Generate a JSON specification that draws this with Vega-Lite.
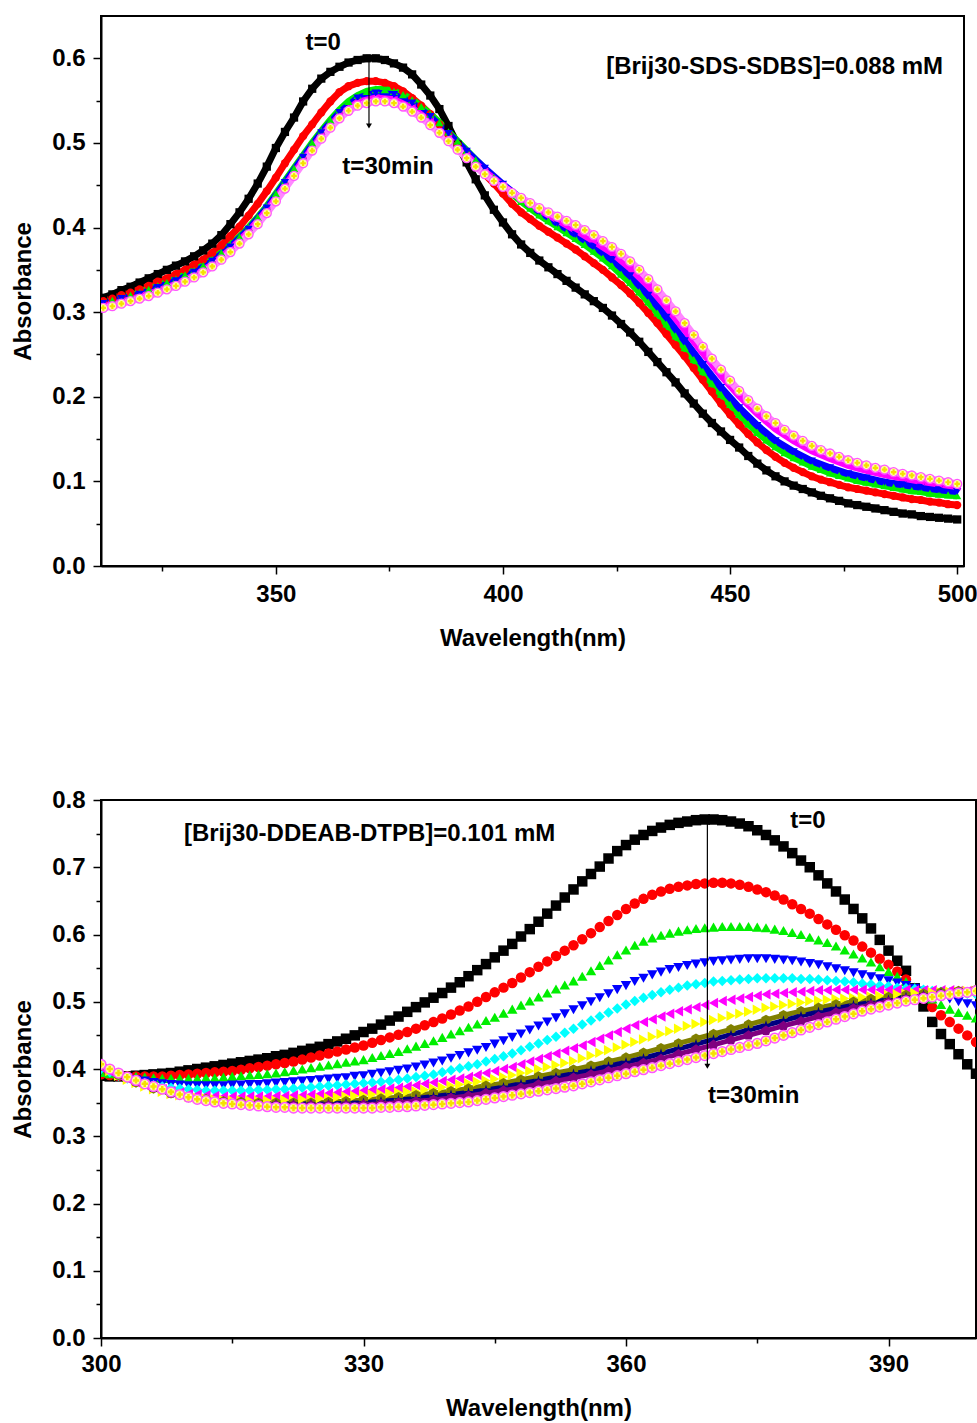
{
"$schema": "https://vega.github.io/schema/vega-lite/v6.json",
"background": "white",
"padding": {"left": 10, "top": 15, "right": 2, "bottom": 2},
"spacing": 136,
"config": {
  "view": {"stroke": "black", "strokeWidth": 2},
  "axis": {"labelFont": "Liberation Sans", "labelFontWeight": "bold", "labelFontSize": 24, "labelColor": "black", "titleFont": "Liberation Sans", "titleFontWeight": "bold", "titleFontSize": 24, "titleColor": "black", "domainColor": "black", "domainWidth": 2, "tickColor": "black", "tickWidth": 1.5, "grid": false, "labelFlush": false, "labelPadding": 6, "titlePadding": 12},
  "text": {"font": "Liberation Sans", "fontWeight": "bold", "fontSize": 24, "color": "black"}
},
"datasets": {
"topNotes": [{"nm": 360.4, "A": 0.618, "label": "t=0"}, {"nm": 374.7, "A": 0.472, "label": "t=30min"}, {"nm": 459.8, "A": 0.59, "label": "[Brij30-SDS-SDBS]=0.088 mM"}],
"bottomNotes": [{"nm": 380.8, "A": 0.769, "label": "t=0"}, {"nm": 374.6, "A": 0.36, "label": "t=30min"}, {"nm": 330.7, "A": 0.749, "label": "[Brij30-DDEAB-DTPB]=0.101 mM"}],
"topArrow": [{"nm": 370.5, "from": 0.602, "to": 0.52}],
"bottomArrow": [{"nm": 369.3, "from": 0.772, "to": 0.404}],
"top": [
{"t":0,"nm":312,"A":0.317},{"t":0,"nm":314,"A":0.321},{"t":0,"nm":316,"A":0.326},{"t":0,"nm":318,"A":0.330},{"t":0,"nm":320,"A":0.335},{"t":0,"nm":322,"A":0.340},{"t":0,"nm":324,"A":0.345},{"t":0,"nm":326,"A":0.350},{"t":0,"nm":328,"A":0.355},{"t":0,"nm":330,"A":0.360},{"t":0,"nm":332,"A":0.366},{"t":0,"nm":334,"A":0.373},{"t":0,"nm":336,"A":0.381},{"t":0,"nm":338,"A":0.391},{"t":0,"nm":340,"A":0.404},{"t":0,"nm":342,"A":0.418},{"t":0,"nm":344,"A":0.434},{"t":0,"nm":346,"A":0.452},{"t":0,"nm":348,"A":0.472},{"t":0,"nm":350,"A":0.494},{"t":0,"nm":352,"A":0.513},{"t":0,"nm":354,"A":0.530},{"t":0,"nm":356,"A":0.549},{"t":0,"nm":358,"A":0.564},{"t":0,"nm":360,"A":0.576},{"t":0,"nm":362,"A":0.584},{"t":0,"nm":364,"A":0.590},{"t":0,"nm":366,"A":0.595},{"t":0,"nm":368,"A":0.598},{"t":0,"nm":370,"A":0.600},{"t":0,"nm":372,"A":0.600},{"t":0,"nm":374,"A":0.598},{"t":0,"nm":376,"A":0.594},{"t":0,"nm":378,"A":0.589},{"t":0,"nm":380,"A":0.581},{"t":0,"nm":382,"A":0.569},{"t":0,"nm":384,"A":0.556},{"t":0,"nm":386,"A":0.540},{"t":0,"nm":388,"A":0.520},{"t":0,"nm":390,"A":0.498},{"t":0,"nm":392,"A":0.477},{"t":0,"nm":394,"A":0.457},{"t":0,"nm":396,"A":0.438},{"t":0,"nm":398,"A":0.421},{"t":0,"nm":400,"A":0.406},{"t":0,"nm":402,"A":0.392},{"t":0,"nm":404,"A":0.380},{"t":0,"nm":406,"A":0.370},{"t":0,"nm":408,"A":0.361},{"t":0,"nm":410,"A":0.353},{"t":0,"nm":412,"A":0.345},{"t":0,"nm":414,"A":0.337},{"t":0,"nm":416,"A":0.329},{"t":0,"nm":418,"A":0.321},{"t":0,"nm":420,"A":0.313},{"t":0,"nm":422,"A":0.305},{"t":0,"nm":424,"A":0.296},{"t":0,"nm":426,"A":0.286},{"t":0,"nm":428,"A":0.276},{"t":0,"nm":430,"A":0.265},{"t":0,"nm":432,"A":0.253},{"t":0,"nm":434,"A":0.241},{"t":0,"nm":436,"A":0.229},{"t":0,"nm":438,"A":0.217},{"t":0,"nm":440,"A":0.204},{"t":0,"nm":442,"A":0.192},{"t":0,"nm":444,"A":0.180},{"t":0,"nm":446,"A":0.169},{"t":0,"nm":448,"A":0.159},{"t":0,"nm":450,"A":0.149},{"t":0,"nm":452,"A":0.140},{"t":0,"nm":454,"A":0.130},{"t":0,"nm":456,"A":0.121},{"t":0,"nm":458,"A":0.113},{"t":0,"nm":460,"A":0.106},{"t":0,"nm":462,"A":0.100},{"t":0,"nm":464,"A":0.095},{"t":0,"nm":466,"A":0.091},{"t":0,"nm":468,"A":0.087},{"t":0,"nm":470,"A":0.083},{"t":0,"nm":472,"A":0.080},{"t":0,"nm":474,"A":0.077},{"t":0,"nm":476,"A":0.074},{"t":0,"nm":478,"A":0.072},{"t":0,"nm":480,"A":0.070},{"t":0,"nm":482,"A":0.068},{"t":0,"nm":484,"A":0.066},{"t":0,"nm":486,"A":0.064},{"t":0,"nm":488,"A":0.062},{"t":0,"nm":490,"A":0.061},{"t":0,"nm":492,"A":0.059},{"t":0,"nm":494,"A":0.058},{"t":0,"nm":496,"A":0.057},{"t":0,"nm":498,"A":0.056},{"t":0,"nm":500,"A":0.055},
{"t":1,"nm":312,"A":0.313},{"t":1,"nm":314,"A":0.316},{"t":1,"nm":316,"A":0.320},{"t":1,"nm":318,"A":0.323},{"t":1,"nm":320,"A":0.327},{"t":1,"nm":322,"A":0.331},{"t":1,"nm":324,"A":0.336},{"t":1,"nm":326,"A":0.340},{"t":1,"nm":328,"A":0.345},{"t":1,"nm":330,"A":0.350},{"t":1,"nm":332,"A":0.356},{"t":1,"nm":334,"A":0.362},{"t":1,"nm":336,"A":0.370},{"t":1,"nm":338,"A":0.379},{"t":1,"nm":340,"A":0.390},{"t":1,"nm":342,"A":0.401},{"t":1,"nm":344,"A":0.414},{"t":1,"nm":346,"A":0.428},{"t":1,"nm":348,"A":0.443},{"t":1,"nm":350,"A":0.459},{"t":1,"nm":352,"A":0.476},{"t":1,"nm":354,"A":0.492},{"t":1,"nm":356,"A":0.508},{"t":1,"nm":358,"A":0.522},{"t":1,"nm":360,"A":0.536},{"t":1,"nm":362,"A":0.549},{"t":1,"nm":364,"A":0.560},{"t":1,"nm":366,"A":0.567},{"t":1,"nm":368,"A":0.571},{"t":1,"nm":370,"A":0.573},{"t":1,"nm":372,"A":0.573},{"t":1,"nm":374,"A":0.571},{"t":1,"nm":376,"A":0.567},{"t":1,"nm":378,"A":0.561},{"t":1,"nm":380,"A":0.553},{"t":1,"nm":382,"A":0.544},{"t":1,"nm":384,"A":0.534},{"t":1,"nm":386,"A":0.522},{"t":1,"nm":388,"A":0.510},{"t":1,"nm":390,"A":0.498},{"t":1,"nm":392,"A":0.486},{"t":1,"nm":394,"A":0.474},{"t":1,"nm":396,"A":0.463},{"t":1,"nm":398,"A":0.452},{"t":1,"nm":400,"A":0.440},{"t":1,"nm":402,"A":0.428},{"t":1,"nm":404,"A":0.418},{"t":1,"nm":406,"A":0.410},{"t":1,"nm":408,"A":0.402},{"t":1,"nm":410,"A":0.395},{"t":1,"nm":412,"A":0.388},{"t":1,"nm":414,"A":0.381},{"t":1,"nm":416,"A":0.374},{"t":1,"nm":418,"A":0.366},{"t":1,"nm":420,"A":0.358},{"t":1,"nm":422,"A":0.350},{"t":1,"nm":424,"A":0.341},{"t":1,"nm":426,"A":0.332},{"t":1,"nm":428,"A":0.322},{"t":1,"nm":430,"A":0.311},{"t":1,"nm":432,"A":0.299},{"t":1,"nm":434,"A":0.287},{"t":1,"nm":436,"A":0.274},{"t":1,"nm":438,"A":0.261},{"t":1,"nm":440,"A":0.248},{"t":1,"nm":442,"A":0.234},{"t":1,"nm":444,"A":0.220},{"t":1,"nm":446,"A":0.206},{"t":1,"nm":448,"A":0.192},{"t":1,"nm":450,"A":0.179},{"t":1,"nm":452,"A":0.167},{"t":1,"nm":454,"A":0.156},{"t":1,"nm":456,"A":0.146},{"t":1,"nm":458,"A":0.137},{"t":1,"nm":460,"A":0.129},{"t":1,"nm":462,"A":0.122},{"t":1,"nm":464,"A":0.116},{"t":1,"nm":466,"A":0.111},{"t":1,"nm":468,"A":0.106},{"t":1,"nm":470,"A":0.102},{"t":1,"nm":472,"A":0.099},{"t":1,"nm":474,"A":0.096},{"t":1,"nm":476,"A":0.093},{"t":1,"nm":478,"A":0.091},{"t":1,"nm":480,"A":0.089},{"t":1,"nm":482,"A":0.087},{"t":1,"nm":484,"A":0.085},{"t":1,"nm":486,"A":0.083},{"t":1,"nm":488,"A":0.081},{"t":1,"nm":490,"A":0.079},{"t":1,"nm":492,"A":0.078},{"t":1,"nm":494,"A":0.076},{"t":1,"nm":496,"A":0.075},{"t":1,"nm":498,"A":0.073},{"t":1,"nm":500,"A":0.072},
{"t":2,"nm":312,"A":0.311},{"t":2,"nm":314,"A":0.314},{"t":2,"nm":316,"A":0.317},{"t":2,"nm":318,"A":0.320},{"t":2,"nm":320,"A":0.323},{"t":2,"nm":322,"A":0.327},{"t":2,"nm":324,"A":0.331},{"t":2,"nm":326,"A":0.335},{"t":2,"nm":328,"A":0.339},{"t":2,"nm":330,"A":0.344},{"t":2,"nm":332,"A":0.349},{"t":2,"nm":334,"A":0.355},{"t":2,"nm":336,"A":0.362},{"t":2,"nm":338,"A":0.370},{"t":2,"nm":340,"A":0.379},{"t":2,"nm":342,"A":0.389},{"t":2,"nm":344,"A":0.400},{"t":2,"nm":346,"A":0.412},{"t":2,"nm":348,"A":0.425},{"t":2,"nm":350,"A":0.440},{"t":2,"nm":352,"A":0.455},{"t":2,"nm":354,"A":0.470},{"t":2,"nm":356,"A":0.485},{"t":2,"nm":358,"A":0.500},{"t":2,"nm":360,"A":0.514},{"t":2,"nm":362,"A":0.527},{"t":2,"nm":364,"A":0.539},{"t":2,"nm":366,"A":0.549},{"t":2,"nm":368,"A":0.556},{"t":2,"nm":370,"A":0.561},{"t":2,"nm":372,"A":0.563},{"t":2,"nm":374,"A":0.563},{"t":2,"nm":376,"A":0.561},{"t":2,"nm":378,"A":0.557},{"t":2,"nm":380,"A":0.551},{"t":2,"nm":382,"A":0.543},{"t":2,"nm":384,"A":0.534},{"t":2,"nm":386,"A":0.524},{"t":2,"nm":388,"A":0.513},{"t":2,"nm":390,"A":0.502},{"t":2,"nm":392,"A":0.491},{"t":2,"nm":394,"A":0.480},{"t":2,"nm":396,"A":0.469},{"t":2,"nm":398,"A":0.459},{"t":2,"nm":400,"A":0.449},{"t":2,"nm":402,"A":0.440},{"t":2,"nm":404,"A":0.431},{"t":2,"nm":406,"A":0.423},{"t":2,"nm":408,"A":0.415},{"t":2,"nm":410,"A":0.408},{"t":2,"nm":412,"A":0.401},{"t":2,"nm":414,"A":0.394},{"t":2,"nm":416,"A":0.387},{"t":2,"nm":418,"A":0.380},{"t":2,"nm":420,"A":0.372},{"t":2,"nm":422,"A":0.364},{"t":2,"nm":424,"A":0.355},{"t":2,"nm":426,"A":0.345},{"t":2,"nm":428,"A":0.335},{"t":2,"nm":430,"A":0.324},{"t":2,"nm":432,"A":0.312},{"t":2,"nm":434,"A":0.299},{"t":2,"nm":436,"A":0.286},{"t":2,"nm":438,"A":0.272},{"t":2,"nm":440,"A":0.258},{"t":2,"nm":442,"A":0.244},{"t":2,"nm":444,"A":0.230},{"t":2,"nm":446,"A":0.216},{"t":2,"nm":448,"A":0.203},{"t":2,"nm":450,"A":0.191},{"t":2,"nm":452,"A":0.179},{"t":2,"nm":454,"A":0.168},{"t":2,"nm":456,"A":0.158},{"t":2,"nm":458,"A":0.149},{"t":2,"nm":460,"A":0.141},{"t":2,"nm":462,"A":0.134},{"t":2,"nm":464,"A":0.128},{"t":2,"nm":466,"A":0.123},{"t":2,"nm":468,"A":0.118},{"t":2,"nm":470,"A":0.114},{"t":2,"nm":472,"A":0.110},{"t":2,"nm":474,"A":0.107},{"t":2,"nm":476,"A":0.104},{"t":2,"nm":478,"A":0.101},{"t":2,"nm":480,"A":0.099},{"t":2,"nm":482,"A":0.097},{"t":2,"nm":484,"A":0.095},{"t":2,"nm":486,"A":0.093},{"t":2,"nm":488,"A":0.091},{"t":2,"nm":490,"A":0.089},{"t":2,"nm":492,"A":0.088},{"t":2,"nm":494,"A":0.086},{"t":2,"nm":496,"A":0.085},{"t":2,"nm":498,"A":0.084},{"t":2,"nm":500,"A":0.083},
{"t":3,"nm":312,"A":0.310},{"t":3,"nm":316,"A":0.316},{"t":3,"nm":320,"A":0.321},{"t":3,"nm":324,"A":0.329},{"t":3,"nm":328,"A":0.337},{"t":3,"nm":332,"A":0.347},{"t":3,"nm":336,"A":0.360},{"t":3,"nm":340,"A":0.377},{"t":3,"nm":344,"A":0.398},{"t":3,"nm":348,"A":0.423},{"t":3,"nm":352,"A":0.453},{"t":3,"nm":356,"A":0.483},{"t":3,"nm":360,"A":0.512},{"t":3,"nm":364,"A":0.536},{"t":3,"nm":368,"A":0.553},{"t":3,"nm":372,"A":0.559},{"t":3,"nm":376,"A":0.557},{"t":3,"nm":380,"A":0.547},{"t":3,"nm":384,"A":0.531},{"t":3,"nm":388,"A":0.511},{"t":3,"nm":392,"A":0.490},{"t":3,"nm":396,"A":0.470},{"t":3,"nm":400,"A":0.451},{"t":3,"nm":404,"A":0.434},{"t":3,"nm":408,"A":0.419},{"t":3,"nm":412,"A":0.405},{"t":3,"nm":416,"A":0.392},{"t":3,"nm":420,"A":0.378},{"t":3,"nm":424,"A":0.362},{"t":3,"nm":428,"A":0.343},{"t":3,"nm":432,"A":0.320},{"t":3,"nm":436,"A":0.294},{"t":3,"nm":440,"A":0.266},{"t":3,"nm":444,"A":0.238},{"t":3,"nm":448,"A":0.211},{"t":3,"nm":452,"A":0.187},{"t":3,"nm":456,"A":0.166},{"t":3,"nm":460,"A":0.148},{"t":3,"nm":464,"A":0.135},{"t":3,"nm":468,"A":0.124},{"t":3,"nm":472,"A":0.116},{"t":3,"nm":476,"A":0.109},{"t":3,"nm":480,"A":0.104},{"t":3,"nm":484,"A":0.099},{"t":3,"nm":488,"A":0.096},{"t":3,"nm":492,"A":0.093},{"t":3,"nm":496,"A":0.090},{"t":3,"nm":500,"A":0.088},
{"t":5,"nm":312,"A":0.307},{"t":5,"nm":316,"A":0.312},{"t":5,"nm":320,"A":0.318},{"t":5,"nm":324,"A":0.325},{"t":5,"nm":328,"A":0.333},{"t":5,"nm":332,"A":0.343},{"t":5,"nm":336,"A":0.356},{"t":5,"nm":340,"A":0.374},{"t":5,"nm":344,"A":0.395},{"t":5,"nm":348,"A":0.420},{"t":5,"nm":352,"A":0.449},{"t":5,"nm":356,"A":0.479},{"t":5,"nm":360,"A":0.508},{"t":5,"nm":364,"A":0.532},{"t":5,"nm":368,"A":0.548},{"t":5,"nm":372,"A":0.553},{"t":5,"nm":376,"A":0.551},{"t":5,"nm":380,"A":0.541},{"t":5,"nm":384,"A":0.525},{"t":5,"nm":388,"A":0.505},{"t":5,"nm":392,"A":0.485},{"t":5,"nm":396,"A":0.466},{"t":5,"nm":400,"A":0.449},{"t":5,"nm":404,"A":0.434},{"t":5,"nm":408,"A":0.421},{"t":5,"nm":412,"A":0.409},{"t":5,"nm":416,"A":0.397},{"t":5,"nm":420,"A":0.384},{"t":5,"nm":424,"A":0.370},{"t":5,"nm":428,"A":0.352},{"t":5,"nm":432,"A":0.331},{"t":5,"nm":436,"A":0.306},{"t":5,"nm":440,"A":0.279},{"t":5,"nm":444,"A":0.252},{"t":5,"nm":448,"A":0.225},{"t":5,"nm":452,"A":0.201},{"t":5,"nm":456,"A":0.180},{"t":5,"nm":460,"A":0.162},{"t":5,"nm":464,"A":0.148},{"t":5,"nm":468,"A":0.136},{"t":5,"nm":472,"A":0.127},{"t":5,"nm":476,"A":0.119},{"t":5,"nm":480,"A":0.113},{"t":5,"nm":484,"A":0.108},{"t":5,"nm":488,"A":0.104},{"t":5,"nm":492,"A":0.100},{"t":5,"nm":496,"A":0.097},{"t":5,"nm":500,"A":0.094},
{"t":10,"nm":312,"A":0.305},{"t":10,"nm":314,"A":0.307},{"t":10,"nm":316,"A":0.310},{"t":10,"nm":318,"A":0.313},{"t":10,"nm":320,"A":0.316},{"t":10,"nm":322,"A":0.319},{"t":10,"nm":324,"A":0.323},{"t":10,"nm":326,"A":0.327},{"t":10,"nm":328,"A":0.331},{"t":10,"nm":330,"A":0.336},{"t":10,"nm":332,"A":0.341},{"t":10,"nm":334,"A":0.347},{"t":10,"nm":336,"A":0.354},{"t":10,"nm":338,"A":0.362},{"t":10,"nm":340,"A":0.371},{"t":10,"nm":342,"A":0.381},{"t":10,"nm":344,"A":0.392},{"t":10,"nm":346,"A":0.404},{"t":10,"nm":348,"A":0.417},{"t":10,"nm":350,"A":0.431},{"t":10,"nm":352,"A":0.446},{"t":10,"nm":354,"A":0.461},{"t":10,"nm":356,"A":0.476},{"t":10,"nm":358,"A":0.491},{"t":10,"nm":360,"A":0.505},{"t":10,"nm":362,"A":0.518},{"t":10,"nm":364,"A":0.529},{"t":10,"nm":366,"A":0.538},{"t":10,"nm":368,"A":0.544},{"t":10,"nm":370,"A":0.547},{"t":10,"nm":372,"A":0.549},{"t":10,"nm":374,"A":0.549},{"t":10,"nm":376,"A":0.547},{"t":10,"nm":378,"A":0.543},{"t":10,"nm":380,"A":0.537},{"t":10,"nm":382,"A":0.530},{"t":10,"nm":384,"A":0.521},{"t":10,"nm":386,"A":0.512},{"t":10,"nm":388,"A":0.502},{"t":10,"nm":390,"A":0.492},{"t":10,"nm":392,"A":0.482},{"t":10,"nm":394,"A":0.472},{"t":10,"nm":396,"A":0.463},{"t":10,"nm":398,"A":0.455},{"t":10,"nm":400,"A":0.448},{"t":10,"nm":402,"A":0.441},{"t":10,"nm":404,"A":0.435},{"t":10,"nm":406,"A":0.429},{"t":10,"nm":408,"A":0.423},{"t":10,"nm":410,"A":0.418},{"t":10,"nm":412,"A":0.413},{"t":10,"nm":414,"A":0.408},{"t":10,"nm":416,"A":0.403},{"t":10,"nm":418,"A":0.397},{"t":10,"nm":420,"A":0.391},{"t":10,"nm":422,"A":0.384},{"t":10,"nm":424,"A":0.377},{"t":10,"nm":426,"A":0.369},{"t":10,"nm":428,"A":0.360},{"t":10,"nm":430,"A":0.350},{"t":10,"nm":432,"A":0.339},{"t":10,"nm":434,"A":0.327},{"t":10,"nm":436,"A":0.314},{"t":10,"nm":438,"A":0.301},{"t":10,"nm":440,"A":0.287},{"t":10,"nm":442,"A":0.273},{"t":10,"nm":444,"A":0.259},{"t":10,"nm":446,"A":0.245},{"t":10,"nm":448,"A":0.232},{"t":10,"nm":450,"A":0.219},{"t":10,"nm":452,"A":0.207},{"t":10,"nm":454,"A":0.196},{"t":10,"nm":456,"A":0.186},{"t":10,"nm":458,"A":0.177},{"t":10,"nm":460,"A":0.169},{"t":10,"nm":462,"A":0.161},{"t":10,"nm":464,"A":0.154},{"t":10,"nm":466,"A":0.148},{"t":10,"nm":468,"A":0.142},{"t":10,"nm":470,"A":0.137},{"t":10,"nm":472,"A":0.133},{"t":10,"nm":474,"A":0.129},{"t":10,"nm":476,"A":0.125},{"t":10,"nm":478,"A":0.122},{"t":10,"nm":480,"A":0.119},{"t":10,"nm":482,"A":0.116},{"t":10,"nm":484,"A":0.114},{"t":10,"nm":486,"A":0.111},{"t":10,"nm":488,"A":0.109},{"t":10,"nm":490,"A":0.107},{"t":10,"nm":492,"A":0.105},{"t":10,"nm":494,"A":0.103},{"t":10,"nm":496,"A":0.101},{"t":10,"nm":498,"A":0.099},{"t":10,"nm":500,"A":0.097}
],
"bottom": [
{"t":0,"nm":300,"A":0.390},{"t":0,"nm":301,"A":0.389},{"t":0,"nm":302,"A":0.389},{"t":0,"nm":303,"A":0.389},{"t":0,"nm":304,"A":0.390},{"t":0,"nm":305,"A":0.391},{"t":0,"nm":306,"A":0.392},{"t":0,"nm":307,"A":0.393},{"t":0,"nm":308,"A":0.394},{"t":0,"nm":309,"A":0.396},{"t":0,"nm":310,"A":0.398},{"t":0,"nm":311,"A":0.400},{"t":0,"nm":312,"A":0.402},{"t":0,"nm":313,"A":0.404},{"t":0,"nm":314,"A":0.406},{"t":0,"nm":315,"A":0.408},{"t":0,"nm":316,"A":0.410},{"t":0,"nm":317,"A":0.412},{"t":0,"nm":318,"A":0.414},{"t":0,"nm":319,"A":0.416},{"t":0,"nm":320,"A":0.419},{"t":0,"nm":321,"A":0.421},{"t":0,"nm":322,"A":0.424},{"t":0,"nm":323,"A":0.427},{"t":0,"nm":324,"A":0.430},{"t":0,"nm":325,"A":0.433},{"t":0,"nm":326,"A":0.437},{"t":0,"nm":327,"A":0.441},{"t":0,"nm":328,"A":0.445},{"t":0,"nm":329,"A":0.450},{"t":0,"nm":330,"A":0.455},{"t":0,"nm":331,"A":0.460},{"t":0,"nm":332,"A":0.466},{"t":0,"nm":333,"A":0.472},{"t":0,"nm":334,"A":0.478},{"t":0,"nm":335,"A":0.485},{"t":0,"nm":336,"A":0.492},{"t":0,"nm":337,"A":0.499},{"t":0,"nm":338,"A":0.506},{"t":0,"nm":339,"A":0.513},{"t":0,"nm":340,"A":0.521},{"t":0,"nm":341,"A":0.529},{"t":0,"nm":342,"A":0.538},{"t":0,"nm":343,"A":0.547},{"t":0,"nm":344,"A":0.556},{"t":0,"nm":345,"A":0.566},{"t":0,"nm":346,"A":0.576},{"t":0,"nm":347,"A":0.586},{"t":0,"nm":348,"A":0.597},{"t":0,"nm":349,"A":0.608},{"t":0,"nm":350,"A":0.619},{"t":0,"nm":351,"A":0.631},{"t":0,"nm":352,"A":0.643},{"t":0,"nm":353,"A":0.655},{"t":0,"nm":354,"A":0.667},{"t":0,"nm":355,"A":0.679},{"t":0,"nm":356,"A":0.690},{"t":0,"nm":357,"A":0.701},{"t":0,"nm":358,"A":0.713},{"t":0,"nm":359,"A":0.724},{"t":0,"nm":360,"A":0.733},{"t":0,"nm":361,"A":0.741},{"t":0,"nm":362,"A":0.748},{"t":0,"nm":363,"A":0.754},{"t":0,"nm":364,"A":0.759},{"t":0,"nm":365,"A":0.763},{"t":0,"nm":366,"A":0.766},{"t":0,"nm":367,"A":0.768},{"t":0,"nm":368,"A":0.770},{"t":0,"nm":369,"A":0.771},{"t":0,"nm":370,"A":0.771},{"t":0,"nm":371,"A":0.770},{"t":0,"nm":372,"A":0.768},{"t":0,"nm":373,"A":0.765},{"t":0,"nm":374,"A":0.761},{"t":0,"nm":375,"A":0.755},{"t":0,"nm":376,"A":0.748},{"t":0,"nm":377,"A":0.740},{"t":0,"nm":378,"A":0.731},{"t":0,"nm":379,"A":0.721},{"t":0,"nm":380,"A":0.710},{"t":0,"nm":381,"A":0.700},{"t":0,"nm":382,"A":0.688},{"t":0,"nm":383,"A":0.676},{"t":0,"nm":384,"A":0.664},{"t":0,"nm":385,"A":0.652},{"t":0,"nm":386,"A":0.638},{"t":0,"nm":387,"A":0.624},{"t":0,"nm":388,"A":0.609},{"t":0,"nm":389,"A":0.592},{"t":0,"nm":390,"A":0.576},{"t":0,"nm":391,"A":0.561},{"t":0,"nm":392,"A":0.546},{"t":0,"nm":393,"A":0.520},{"t":0,"nm":394,"A":0.493},{"t":0,"nm":395,"A":0.470},{"t":0,"nm":396,"A":0.452},{"t":0,"nm":397,"A":0.437},{"t":0,"nm":398,"A":0.422},{"t":0,"nm":399,"A":0.407},{"t":0,"nm":400,"A":0.393},
{"t":1,"nm":300,"A":0.392},{"t":1,"nm":301,"A":0.391},{"t":1,"nm":302,"A":0.390},{"t":1,"nm":303,"A":0.389},{"t":1,"nm":304,"A":0.389},{"t":1,"nm":305,"A":0.389},{"t":1,"nm":306,"A":0.389},{"t":1,"nm":307,"A":0.389},{"t":1,"nm":308,"A":0.390},{"t":1,"nm":309,"A":0.391},{"t":1,"nm":310,"A":0.392},{"t":1,"nm":311,"A":0.393},{"t":1,"nm":312,"A":0.394},{"t":1,"nm":313,"A":0.395},{"t":1,"nm":314,"A":0.396},{"t":1,"nm":315,"A":0.397},{"t":1,"nm":316,"A":0.399},{"t":1,"nm":317,"A":0.401},{"t":1,"nm":318,"A":0.403},{"t":1,"nm":319,"A":0.405},{"t":1,"nm":320,"A":0.407},{"t":1,"nm":321,"A":0.409},{"t":1,"nm":322,"A":0.411},{"t":1,"nm":323,"A":0.414},{"t":1,"nm":324,"A":0.417},{"t":1,"nm":325,"A":0.420},{"t":1,"nm":326,"A":0.423},{"t":1,"nm":327,"A":0.426},{"t":1,"nm":328,"A":0.429},{"t":1,"nm":329,"A":0.432},{"t":1,"nm":330,"A":0.435},{"t":1,"nm":331,"A":0.439},{"t":1,"nm":332,"A":0.443},{"t":1,"nm":333,"A":0.447},{"t":1,"nm":334,"A":0.451},{"t":1,"nm":335,"A":0.455},{"t":1,"nm":336,"A":0.460},{"t":1,"nm":337,"A":0.465},{"t":1,"nm":338,"A":0.470},{"t":1,"nm":339,"A":0.475},{"t":1,"nm":340,"A":0.481},{"t":1,"nm":341,"A":0.487},{"t":1,"nm":342,"A":0.493},{"t":1,"nm":343,"A":0.500},{"t":1,"nm":344,"A":0.507},{"t":1,"nm":345,"A":0.514},{"t":1,"nm":346,"A":0.521},{"t":1,"nm":347,"A":0.528},{"t":1,"nm":348,"A":0.536},{"t":1,"nm":349,"A":0.544},{"t":1,"nm":350,"A":0.552},{"t":1,"nm":351,"A":0.560},{"t":1,"nm":352,"A":0.568},{"t":1,"nm":353,"A":0.576},{"t":1,"nm":354,"A":0.584},{"t":1,"nm":355,"A":0.593},{"t":1,"nm":356,"A":0.602},{"t":1,"nm":357,"A":0.611},{"t":1,"nm":358,"A":0.620},{"t":1,"nm":359,"A":0.629},{"t":1,"nm":360,"A":0.638},{"t":1,"nm":361,"A":0.646},{"t":1,"nm":362,"A":0.653},{"t":1,"nm":363,"A":0.659},{"t":1,"nm":364,"A":0.664},{"t":1,"nm":365,"A":0.668},{"t":1,"nm":366,"A":0.671},{"t":1,"nm":367,"A":0.673},{"t":1,"nm":368,"A":0.675},{"t":1,"nm":369,"A":0.676},{"t":1,"nm":370,"A":0.677},{"t":1,"nm":371,"A":0.677},{"t":1,"nm":372,"A":0.676},{"t":1,"nm":373,"A":0.674},{"t":1,"nm":374,"A":0.671},{"t":1,"nm":375,"A":0.667},{"t":1,"nm":376,"A":0.663},{"t":1,"nm":377,"A":0.658},{"t":1,"nm":378,"A":0.652},{"t":1,"nm":379,"A":0.645},{"t":1,"nm":380,"A":0.638},{"t":1,"nm":381,"A":0.631},{"t":1,"nm":382,"A":0.623},{"t":1,"nm":383,"A":0.615},{"t":1,"nm":384,"A":0.607},{"t":1,"nm":385,"A":0.599},{"t":1,"nm":386,"A":0.591},{"t":1,"nm":387,"A":0.582},{"t":1,"nm":388,"A":0.573},{"t":1,"nm":389,"A":0.564},{"t":1,"nm":390,"A":0.555},{"t":1,"nm":391,"A":0.545},{"t":1,"nm":392,"A":0.533},{"t":1,"nm":393,"A":0.519},{"t":1,"nm":394,"A":0.505},{"t":1,"nm":395,"A":0.492},{"t":1,"nm":396,"A":0.480},{"t":1,"nm":397,"A":0.470},{"t":1,"nm":398,"A":0.460},{"t":1,"nm":399,"A":0.450},{"t":1,"nm":400,"A":0.440},
{"t":2,"nm":300,"A":0.395},{"t":2,"nm":301,"A":0.393},{"t":2,"nm":302,"A":0.391},{"t":2,"nm":303,"A":0.390},{"t":2,"nm":304,"A":0.389},{"t":2,"nm":305,"A":0.388},{"t":2,"nm":306,"A":0.387},{"t":2,"nm":307,"A":0.386},{"t":2,"nm":308,"A":0.386},{"t":2,"nm":309,"A":0.386},{"t":2,"nm":310,"A":0.386},{"t":2,"nm":311,"A":0.386},{"t":2,"nm":312,"A":0.387},{"t":2,"nm":313,"A":0.387},{"t":2,"nm":314,"A":0.388},{"t":2,"nm":315,"A":0.389},{"t":2,"nm":316,"A":0.390},{"t":2,"nm":317,"A":0.391},{"t":2,"nm":318,"A":0.392},{"t":2,"nm":319,"A":0.393},{"t":2,"nm":320,"A":0.394},{"t":2,"nm":321,"A":0.396},{"t":2,"nm":322,"A":0.398},{"t":2,"nm":323,"A":0.400},{"t":2,"nm":324,"A":0.402},{"t":2,"nm":325,"A":0.404},{"t":2,"nm":326,"A":0.406},{"t":2,"nm":327,"A":0.408},{"t":2,"nm":328,"A":0.410},{"t":2,"nm":329,"A":0.412},{"t":2,"nm":330,"A":0.414},{"t":2,"nm":331,"A":0.417},{"t":2,"nm":332,"A":0.420},{"t":2,"nm":333,"A":0.423},{"t":2,"nm":334,"A":0.426},{"t":2,"nm":335,"A":0.430},{"t":2,"nm":336,"A":0.434},{"t":2,"nm":337,"A":0.438},{"t":2,"nm":338,"A":0.442},{"t":2,"nm":339,"A":0.447},{"t":2,"nm":340,"A":0.452},{"t":2,"nm":341,"A":0.457},{"t":2,"nm":342,"A":0.462},{"t":2,"nm":343,"A":0.467},{"t":2,"nm":344,"A":0.472},{"t":2,"nm":345,"A":0.477},{"t":2,"nm":346,"A":0.483},{"t":2,"nm":347,"A":0.489},{"t":2,"nm":348,"A":0.495},{"t":2,"nm":349,"A":0.501},{"t":2,"nm":350,"A":0.507},{"t":2,"nm":351,"A":0.513},{"t":2,"nm":352,"A":0.519},{"t":2,"nm":353,"A":0.525},{"t":2,"nm":354,"A":0.531},{"t":2,"nm":355,"A":0.538},{"t":2,"nm":356,"A":0.546},{"t":2,"nm":357,"A":0.554},{"t":2,"nm":358,"A":0.562},{"t":2,"nm":359,"A":0.570},{"t":2,"nm":360,"A":0.577},{"t":2,"nm":361,"A":0.584},{"t":2,"nm":362,"A":0.590},{"t":2,"nm":363,"A":0.595},{"t":2,"nm":364,"A":0.599},{"t":2,"nm":365,"A":0.602},{"t":2,"nm":366,"A":0.605},{"t":2,"nm":367,"A":0.607},{"t":2,"nm":368,"A":0.609},{"t":2,"nm":369,"A":0.610},{"t":2,"nm":370,"A":0.611},{"t":2,"nm":371,"A":0.612},{"t":2,"nm":372,"A":0.612},{"t":2,"nm":373,"A":0.612},{"t":2,"nm":374,"A":0.612},{"t":2,"nm":375,"A":0.611},{"t":2,"nm":376,"A":0.610},{"t":2,"nm":377,"A":0.608},{"t":2,"nm":378,"A":0.606},{"t":2,"nm":379,"A":0.603},{"t":2,"nm":380,"A":0.600},{"t":2,"nm":381,"A":0.596},{"t":2,"nm":382,"A":0.592},{"t":2,"nm":383,"A":0.588},{"t":2,"nm":384,"A":0.583},{"t":2,"nm":385,"A":0.577},{"t":2,"nm":386,"A":0.571},{"t":2,"nm":387,"A":0.565},{"t":2,"nm":388,"A":0.559},{"t":2,"nm":389,"A":0.552},{"t":2,"nm":390,"A":0.545},{"t":2,"nm":391,"A":0.538},{"t":2,"nm":392,"A":0.530},{"t":2,"nm":393,"A":0.522},{"t":2,"nm":394,"A":0.513},{"t":2,"nm":395,"A":0.504},{"t":2,"nm":396,"A":0.496},{"t":2,"nm":397,"A":0.489},{"t":2,"nm":398,"A":0.484},{"t":2,"nm":399,"A":0.480},{"t":2,"nm":400,"A":0.476},
{"t":3,"nm":300,"A":0.398},{"t":3,"nm":301,"A":0.394},{"t":3,"nm":302,"A":0.390},{"t":3,"nm":303,"A":0.387},{"t":3,"nm":304,"A":0.384},{"t":3,"nm":305,"A":0.382},{"t":3,"nm":306,"A":0.380},{"t":3,"nm":307,"A":0.378},{"t":3,"nm":308,"A":0.377},{"t":3,"nm":309,"A":0.376},{"t":3,"nm":310,"A":0.375},{"t":3,"nm":311,"A":0.375},{"t":3,"nm":312,"A":0.375},{"t":3,"nm":313,"A":0.375},{"t":3,"nm":314,"A":0.375},{"t":3,"nm":315,"A":0.376},{"t":3,"nm":316,"A":0.376},{"t":3,"nm":317,"A":0.377},{"t":3,"nm":318,"A":0.377},{"t":3,"nm":319,"A":0.378},{"t":3,"nm":320,"A":0.379},{"t":3,"nm":321,"A":0.380},{"t":3,"nm":322,"A":0.381},{"t":3,"nm":323,"A":0.382},{"t":3,"nm":324,"A":0.383},{"t":3,"nm":325,"A":0.384},{"t":3,"nm":326,"A":0.385},{"t":3,"nm":327,"A":0.386},{"t":3,"nm":328,"A":0.387},{"t":3,"nm":329,"A":0.389},{"t":3,"nm":330,"A":0.390},{"t":3,"nm":331,"A":0.392},{"t":3,"nm":332,"A":0.394},{"t":3,"nm":333,"A":0.396},{"t":3,"nm":334,"A":0.398},{"t":3,"nm":335,"A":0.400},{"t":3,"nm":336,"A":0.403},{"t":3,"nm":337,"A":0.406},{"t":3,"nm":338,"A":0.409},{"t":3,"nm":339,"A":0.412},{"t":3,"nm":340,"A":0.416},{"t":3,"nm":341,"A":0.420},{"t":3,"nm":342,"A":0.424},{"t":3,"nm":343,"A":0.428},{"t":3,"nm":344,"A":0.432},{"t":3,"nm":345,"A":0.437},{"t":3,"nm":346,"A":0.442},{"t":3,"nm":347,"A":0.447},{"t":3,"nm":348,"A":0.452},{"t":3,"nm":349,"A":0.458},{"t":3,"nm":350,"A":0.464},{"t":3,"nm":351,"A":0.470},{"t":3,"nm":352,"A":0.476},{"t":3,"nm":353,"A":0.482},{"t":3,"nm":354,"A":0.488},{"t":3,"nm":355,"A":0.494},{"t":3,"nm":356,"A":0.500},{"t":3,"nm":357,"A":0.506},{"t":3,"nm":358,"A":0.512},{"t":3,"nm":359,"A":0.518},{"t":3,"nm":360,"A":0.524},{"t":3,"nm":361,"A":0.530},{"t":3,"nm":362,"A":0.535},{"t":3,"nm":363,"A":0.540},{"t":3,"nm":364,"A":0.544},{"t":3,"nm":365,"A":0.548},{"t":3,"nm":366,"A":0.551},{"t":3,"nm":367,"A":0.554},{"t":3,"nm":368,"A":0.556},{"t":3,"nm":369,"A":0.558},{"t":3,"nm":370,"A":0.560},{"t":3,"nm":371,"A":0.561},{"t":3,"nm":372,"A":0.562},{"t":3,"nm":373,"A":0.563},{"t":3,"nm":374,"A":0.564},{"t":3,"nm":375,"A":0.564},{"t":3,"nm":376,"A":0.564},{"t":3,"nm":377,"A":0.563},{"t":3,"nm":378,"A":0.562},{"t":3,"nm":379,"A":0.561},{"t":3,"nm":380,"A":0.559},{"t":3,"nm":381,"A":0.557},{"t":3,"nm":382,"A":0.555},{"t":3,"nm":383,"A":0.552},{"t":3,"nm":384,"A":0.549},{"t":3,"nm":385,"A":0.546},{"t":3,"nm":386,"A":0.543},{"t":3,"nm":387,"A":0.540},{"t":3,"nm":388,"A":0.537},{"t":3,"nm":389,"A":0.534},{"t":3,"nm":390,"A":0.531},{"t":3,"nm":391,"A":0.528},{"t":3,"nm":392,"A":0.524},{"t":3,"nm":393,"A":0.520},{"t":3,"nm":394,"A":0.516},{"t":3,"nm":395,"A":0.512},{"t":3,"nm":396,"A":0.508},{"t":3,"nm":397,"A":0.504},{"t":3,"nm":398,"A":0.500},{"t":3,"nm":399,"A":0.497},{"t":3,"nm":400,"A":0.494},
{"t":4,"nm":300,"A":0.400},{"t":4,"nm":301,"A":0.395},{"t":4,"nm":302,"A":0.390},{"t":4,"nm":303,"A":0.386},{"t":4,"nm":304,"A":0.382},{"t":4,"nm":305,"A":0.379},{"t":4,"nm":306,"A":0.376},{"t":4,"nm":307,"A":0.374},{"t":4,"nm":308,"A":0.372},{"t":4,"nm":309,"A":0.371},{"t":4,"nm":310,"A":0.370},{"t":4,"nm":311,"A":0.369},{"t":4,"nm":312,"A":0.368},{"t":4,"nm":313,"A":0.368},{"t":4,"nm":314,"A":0.368},{"t":4,"nm":315,"A":0.368},{"t":4,"nm":316,"A":0.368},{"t":4,"nm":317,"A":0.368},{"t":4,"nm":318,"A":0.369},{"t":4,"nm":319,"A":0.369},{"t":4,"nm":320,"A":0.370},{"t":4,"nm":321,"A":0.370},{"t":4,"nm":322,"A":0.371},{"t":4,"nm":323,"A":0.372},{"t":4,"nm":324,"A":0.373},{"t":4,"nm":325,"A":0.374},{"t":4,"nm":326,"A":0.375},{"t":4,"nm":327,"A":0.376},{"t":4,"nm":328,"A":0.377},{"t":4,"nm":329,"A":0.378},{"t":4,"nm":330,"A":0.379},{"t":4,"nm":331,"A":0.380},{"t":4,"nm":332,"A":0.381},{"t":4,"nm":333,"A":0.382},{"t":4,"nm":334,"A":0.384},{"t":4,"nm":335,"A":0.386},{"t":4,"nm":336,"A":0.388},{"t":4,"nm":337,"A":0.390},{"t":4,"nm":338,"A":0.392},{"t":4,"nm":339,"A":0.395},{"t":4,"nm":340,"A":0.398},{"t":4,"nm":341,"A":0.401},{"t":4,"nm":342,"A":0.404},{"t":4,"nm":343,"A":0.407},{"t":4,"nm":344,"A":0.411},{"t":4,"nm":345,"A":0.415},{"t":4,"nm":346,"A":0.419},{"t":4,"nm":347,"A":0.423},{"t":4,"nm":348,"A":0.428},{"t":4,"nm":349,"A":0.433},{"t":4,"nm":350,"A":0.438},{"t":4,"nm":351,"A":0.443},{"t":4,"nm":352,"A":0.448},{"t":4,"nm":353,"A":0.454},{"t":4,"nm":354,"A":0.460},{"t":4,"nm":355,"A":0.466},{"t":4,"nm":356,"A":0.472},{"t":4,"nm":357,"A":0.478},{"t":4,"nm":358,"A":0.484},{"t":4,"nm":359,"A":0.490},{"t":4,"nm":360,"A":0.496},{"t":4,"nm":361,"A":0.501},{"t":4,"nm":362,"A":0.506},{"t":4,"nm":363,"A":0.510},{"t":4,"nm":364,"A":0.514},{"t":4,"nm":365,"A":0.518},{"t":4,"nm":366,"A":0.521},{"t":4,"nm":367,"A":0.524},{"t":4,"nm":368,"A":0.526},{"t":4,"nm":369,"A":0.528},{"t":4,"nm":370,"A":0.530},{"t":4,"nm":371,"A":0.531},{"t":4,"nm":372,"A":0.532},{"t":4,"nm":373,"A":0.533},{"t":4,"nm":374,"A":0.534},{"t":4,"nm":375,"A":0.535},{"t":4,"nm":376,"A":0.535},{"t":4,"nm":377,"A":0.535},{"t":4,"nm":378,"A":0.535},{"t":4,"nm":379,"A":0.535},{"t":4,"nm":380,"A":0.534},{"t":4,"nm":381,"A":0.534},{"t":4,"nm":382,"A":0.533},{"t":4,"nm":383,"A":0.532},{"t":4,"nm":384,"A":0.531},{"t":4,"nm":385,"A":0.530},{"t":4,"nm":386,"A":0.529},{"t":4,"nm":387,"A":0.527},{"t":4,"nm":388,"A":0.526},{"t":4,"nm":389,"A":0.524},{"t":4,"nm":390,"A":0.523},{"t":4,"nm":391,"A":0.521},{"t":4,"nm":392,"A":0.520},{"t":4,"nm":393,"A":0.519},{"t":4,"nm":394,"A":0.518},{"t":4,"nm":395,"A":0.516},{"t":4,"nm":396,"A":0.515},{"t":4,"nm":397,"A":0.514},{"t":4,"nm":398,"A":0.513},{"t":4,"nm":399,"A":0.512},{"t":4,"nm":400,"A":0.511},
{"t":5,"nm":300,"A":0.402},{"t":5,"nm":301,"A":0.396},{"t":5,"nm":302,"A":0.390},{"t":5,"nm":303,"A":0.385},{"t":5,"nm":304,"A":0.380},{"t":5,"nm":305,"A":0.376},{"t":5,"nm":306,"A":0.373},{"t":5,"nm":307,"A":0.370},{"t":5,"nm":308,"A":0.367},{"t":5,"nm":309,"A":0.365},{"t":5,"nm":310,"A":0.363},{"t":5,"nm":311,"A":0.362},{"t":5,"nm":312,"A":0.361},{"t":5,"nm":313,"A":0.360},{"t":5,"nm":314,"A":0.359},{"t":5,"nm":315,"A":0.359},{"t":5,"nm":316,"A":0.359},{"t":5,"nm":317,"A":0.359},{"t":5,"nm":318,"A":0.359},{"t":5,"nm":319,"A":0.359},{"t":5,"nm":320,"A":0.360},{"t":5,"nm":321,"A":0.360},{"t":5,"nm":322,"A":0.361},{"t":5,"nm":323,"A":0.361},{"t":5,"nm":324,"A":0.362},{"t":5,"nm":325,"A":0.363},{"t":5,"nm":326,"A":0.364},{"t":5,"nm":327,"A":0.365},{"t":5,"nm":328,"A":0.366},{"t":5,"nm":329,"A":0.367},{"t":5,"nm":330,"A":0.368},{"t":5,"nm":331,"A":0.369},{"t":5,"nm":332,"A":0.370},{"t":5,"nm":333,"A":0.371},{"t":5,"nm":334,"A":0.372},{"t":5,"nm":335,"A":0.374},{"t":5,"nm":336,"A":0.376},{"t":5,"nm":337,"A":0.378},{"t":5,"nm":338,"A":0.380},{"t":5,"nm":339,"A":0.382},{"t":5,"nm":340,"A":0.384},{"t":5,"nm":341,"A":0.386},{"t":5,"nm":342,"A":0.388},{"t":5,"nm":343,"A":0.391},{"t":5,"nm":344,"A":0.394},{"t":5,"nm":345,"A":0.397},{"t":5,"nm":346,"A":0.400},{"t":5,"nm":347,"A":0.403},{"t":5,"nm":348,"A":0.407},{"t":5,"nm":349,"A":0.411},{"t":5,"nm":350,"A":0.415},{"t":5,"nm":351,"A":0.419},{"t":5,"nm":352,"A":0.423},{"t":5,"nm":353,"A":0.427},{"t":5,"nm":354,"A":0.431},{"t":5,"nm":355,"A":0.435},{"t":5,"nm":356,"A":0.440},{"t":5,"nm":357,"A":0.445},{"t":5,"nm":358,"A":0.450},{"t":5,"nm":359,"A":0.455},{"t":5,"nm":360,"A":0.460},{"t":5,"nm":361,"A":0.465},{"t":5,"nm":362,"A":0.470},{"t":5,"nm":363,"A":0.474},{"t":5,"nm":364,"A":0.478},{"t":5,"nm":365,"A":0.482},{"t":5,"nm":366,"A":0.486},{"t":5,"nm":367,"A":0.489},{"t":5,"nm":368,"A":0.492},{"t":5,"nm":369,"A":0.495},{"t":5,"nm":370,"A":0.498},{"t":5,"nm":371,"A":0.501},{"t":5,"nm":372,"A":0.503},{"t":5,"nm":373,"A":0.505},{"t":5,"nm":374,"A":0.507},{"t":5,"nm":375,"A":0.509},{"t":5,"nm":376,"A":0.511},{"t":5,"nm":377,"A":0.512},{"t":5,"nm":378,"A":0.513},{"t":5,"nm":379,"A":0.514},{"t":5,"nm":380,"A":0.515},{"t":5,"nm":381,"A":0.516},{"t":5,"nm":382,"A":0.517},{"t":5,"nm":383,"A":0.517},{"t":5,"nm":384,"A":0.518},{"t":5,"nm":385,"A":0.518},{"t":5,"nm":386,"A":0.518},{"t":5,"nm":387,"A":0.518},{"t":5,"nm":388,"A":0.518},{"t":5,"nm":389,"A":0.518},{"t":5,"nm":390,"A":0.518},{"t":5,"nm":391,"A":0.518},{"t":5,"nm":392,"A":0.518},{"t":5,"nm":393,"A":0.517},{"t":5,"nm":394,"A":0.517},{"t":5,"nm":395,"A":0.517},{"t":5,"nm":396,"A":0.517},{"t":5,"nm":397,"A":0.517},{"t":5,"nm":398,"A":0.516},{"t":5,"nm":399,"A":0.516},{"t":5,"nm":400,"A":0.516},
{"t":6,"nm":300,"A":0.404},{"t":6,"nm":301,"A":0.397},{"t":6,"nm":302,"A":0.390},{"t":6,"nm":303,"A":0.384},{"t":6,"nm":304,"A":0.379},{"t":6,"nm":305,"A":0.374},{"t":6,"nm":306,"A":0.370},{"t":6,"nm":307,"A":0.366},{"t":6,"nm":308,"A":0.363},{"t":6,"nm":309,"A":0.361},{"t":6,"nm":310,"A":0.359},{"t":6,"nm":311,"A":0.357},{"t":6,"nm":312,"A":0.356},{"t":6,"nm":313,"A":0.355},{"t":6,"nm":314,"A":0.354},{"t":6,"nm":315,"A":0.353},{"t":6,"nm":316,"A":0.353},{"t":6,"nm":317,"A":0.353},{"t":6,"nm":318,"A":0.353},{"t":6,"nm":319,"A":0.353},{"t":6,"nm":320,"A":0.353},{"t":6,"nm":321,"A":0.354},{"t":6,"nm":322,"A":0.354},{"t":6,"nm":323,"A":0.355},{"t":6,"nm":324,"A":0.355},{"t":6,"nm":325,"A":0.356},{"t":6,"nm":326,"A":0.357},{"t":6,"nm":327,"A":0.358},{"t":6,"nm":328,"A":0.359},{"t":6,"nm":329,"A":0.360},{"t":6,"nm":330,"A":0.361},{"t":6,"nm":331,"A":0.362},{"t":6,"nm":332,"A":0.363},{"t":6,"nm":333,"A":0.364},{"t":6,"nm":334,"A":0.365},{"t":6,"nm":335,"A":0.366},{"t":6,"nm":336,"A":0.367},{"t":6,"nm":337,"A":0.369},{"t":6,"nm":338,"A":0.371},{"t":6,"nm":339,"A":0.373},{"t":6,"nm":340,"A":0.375},{"t":6,"nm":341,"A":0.377},{"t":6,"nm":342,"A":0.379},{"t":6,"nm":343,"A":0.381},{"t":6,"nm":344,"A":0.383},{"t":6,"nm":345,"A":0.385},{"t":6,"nm":346,"A":0.388},{"t":6,"nm":347,"A":0.391},{"t":6,"nm":348,"A":0.394},{"t":6,"nm":349,"A":0.397},{"t":6,"nm":350,"A":0.400},{"t":6,"nm":351,"A":0.403},{"t":6,"nm":352,"A":0.406},{"t":6,"nm":353,"A":0.409},{"t":6,"nm":354,"A":0.412},{"t":6,"nm":355,"A":0.416},{"t":6,"nm":356,"A":0.420},{"t":6,"nm":357,"A":0.424},{"t":6,"nm":358,"A":0.428},{"t":6,"nm":359,"A":0.432},{"t":6,"nm":360,"A":0.436},{"t":6,"nm":361,"A":0.440},{"t":6,"nm":362,"A":0.444},{"t":6,"nm":363,"A":0.448},{"t":6,"nm":364,"A":0.452},{"t":6,"nm":365,"A":0.456},{"t":6,"nm":366,"A":0.460},{"t":6,"nm":367,"A":0.464},{"t":6,"nm":368,"A":0.467},{"t":6,"nm":369,"A":0.470},{"t":6,"nm":370,"A":0.473},{"t":6,"nm":371,"A":0.476},{"t":6,"nm":372,"A":0.479},{"t":6,"nm":373,"A":0.482},{"t":6,"nm":374,"A":0.485},{"t":6,"nm":375,"A":0.488},{"t":6,"nm":376,"A":0.491},{"t":6,"nm":377,"A":0.493},{"t":6,"nm":378,"A":0.495},{"t":6,"nm":379,"A":0.497},{"t":6,"nm":380,"A":0.499},{"t":6,"nm":381,"A":0.501},{"t":6,"nm":382,"A":0.502},{"t":6,"nm":383,"A":0.503},{"t":6,"nm":384,"A":0.504},{"t":6,"nm":385,"A":0.505},{"t":6,"nm":386,"A":0.506},{"t":6,"nm":387,"A":0.507},{"t":6,"nm":388,"A":0.508},{"t":6,"nm":389,"A":0.509},{"t":6,"nm":390,"A":0.510},{"t":6,"nm":391,"A":0.511},{"t":6,"nm":392,"A":0.512},{"t":6,"nm":393,"A":0.513},{"t":6,"nm":394,"A":0.513},{"t":6,"nm":395,"A":0.514},{"t":6,"nm":396,"A":0.514},{"t":6,"nm":397,"A":0.515},{"t":6,"nm":398,"A":0.515},{"t":6,"nm":399,"A":0.516},{"t":6,"nm":400,"A":0.516},
{"t":7,"nm":300,"A":0.405},{"t":7,"nm":302,"A":0.391},{"t":7,"nm":304,"A":0.380},{"t":7,"nm":306,"A":0.371},{"t":7,"nm":308,"A":0.364},{"t":7,"nm":310,"A":0.358},{"t":7,"nm":312,"A":0.355},{"t":7,"nm":314,"A":0.352},{"t":7,"nm":316,"A":0.351},{"t":7,"nm":318,"A":0.350},{"t":7,"nm":320,"A":0.350},{"t":7,"nm":322,"A":0.350},{"t":7,"nm":324,"A":0.350},{"t":7,"nm":326,"A":0.351},{"t":7,"nm":328,"A":0.352},{"t":7,"nm":330,"A":0.354},{"t":7,"nm":332,"A":0.356},{"t":7,"nm":334,"A":0.358},{"t":7,"nm":336,"A":0.361},{"t":7,"nm":338,"A":0.364},{"t":7,"nm":340,"A":0.367},{"t":7,"nm":342,"A":0.371},{"t":7,"nm":344,"A":0.375},{"t":7,"nm":346,"A":0.379},{"t":7,"nm":348,"A":0.384},{"t":7,"nm":350,"A":0.389},{"t":7,"nm":352,"A":0.394},{"t":7,"nm":354,"A":0.399},{"t":7,"nm":356,"A":0.405},{"t":7,"nm":358,"A":0.411},{"t":7,"nm":360,"A":0.417},{"t":7,"nm":362,"A":0.424},{"t":7,"nm":364,"A":0.431},{"t":7,"nm":366,"A":0.438},{"t":7,"nm":368,"A":0.445},{"t":7,"nm":370,"A":0.452},{"t":7,"nm":372,"A":0.459},{"t":7,"nm":374,"A":0.466},{"t":7,"nm":376,"A":0.473},{"t":7,"nm":378,"A":0.480},{"t":7,"nm":380,"A":0.486},{"t":7,"nm":382,"A":0.491},{"t":7,"nm":384,"A":0.496},{"t":7,"nm":386,"A":0.500},{"t":7,"nm":388,"A":0.504},{"t":7,"nm":390,"A":0.507},{"t":7,"nm":392,"A":0.510},{"t":7,"nm":394,"A":0.512},{"t":7,"nm":396,"A":0.514},{"t":7,"nm":398,"A":0.516},{"t":7,"nm":400,"A":0.518},
{"t":8,"nm":300,"A":0.406},{"t":8,"nm":302,"A":0.392},{"t":8,"nm":304,"A":0.381},{"t":8,"nm":306,"A":0.372},{"t":8,"nm":308,"A":0.364},{"t":8,"nm":310,"A":0.358},{"t":8,"nm":312,"A":0.354},{"t":8,"nm":314,"A":0.351},{"t":8,"nm":316,"A":0.349},{"t":8,"nm":318,"A":0.348},{"t":8,"nm":320,"A":0.348},{"t":8,"nm":322,"A":0.348},{"t":8,"nm":324,"A":0.348},{"t":8,"nm":326,"A":0.348},{"t":8,"nm":328,"A":0.349},{"t":8,"nm":330,"A":0.350},{"t":8,"nm":332,"A":0.352},{"t":8,"nm":334,"A":0.354},{"t":8,"nm":336,"A":0.356},{"t":8,"nm":338,"A":0.359},{"t":8,"nm":340,"A":0.362},{"t":8,"nm":342,"A":0.365},{"t":8,"nm":344,"A":0.369},{"t":8,"nm":346,"A":0.373},{"t":8,"nm":348,"A":0.378},{"t":8,"nm":350,"A":0.383},{"t":8,"nm":352,"A":0.388},{"t":8,"nm":354,"A":0.393},{"t":8,"nm":356,"A":0.398},{"t":8,"nm":358,"A":0.404},{"t":8,"nm":360,"A":0.410},{"t":8,"nm":362,"A":0.416},{"t":8,"nm":364,"A":0.423},{"t":8,"nm":366,"A":0.430},{"t":8,"nm":368,"A":0.437},{"t":8,"nm":370,"A":0.444},{"t":8,"nm":372,"A":0.451},{"t":8,"nm":374,"A":0.458},{"t":8,"nm":376,"A":0.465},{"t":8,"nm":378,"A":0.472},{"t":8,"nm":380,"A":0.479},{"t":8,"nm":382,"A":0.485},{"t":8,"nm":384,"A":0.490},{"t":8,"nm":386,"A":0.495},{"t":8,"nm":388,"A":0.499},{"t":8,"nm":390,"A":0.503},{"t":8,"nm":392,"A":0.507},{"t":8,"nm":394,"A":0.510},{"t":8,"nm":396,"A":0.513},{"t":8,"nm":398,"A":0.515},{"t":8,"nm":400,"A":0.517},
{"t":9,"nm":300,"A":0.407},{"t":9,"nm":302,"A":0.393},{"t":9,"nm":304,"A":0.381},{"t":9,"nm":306,"A":0.372},{"t":9,"nm":308,"A":0.364},{"t":9,"nm":310,"A":0.358},{"t":9,"nm":312,"A":0.353},{"t":9,"nm":314,"A":0.350},{"t":9,"nm":316,"A":0.348},{"t":9,"nm":318,"A":0.347},{"t":9,"nm":320,"A":0.346},{"t":9,"nm":322,"A":0.346},{"t":9,"nm":324,"A":0.346},{"t":9,"nm":326,"A":0.346},{"t":9,"nm":328,"A":0.346},{"t":9,"nm":330,"A":0.347},{"t":9,"nm":332,"A":0.348},{"t":9,"nm":334,"A":0.350},{"t":9,"nm":336,"A":0.352},{"t":9,"nm":338,"A":0.354},{"t":9,"nm":340,"A":0.357},{"t":9,"nm":342,"A":0.360},{"t":9,"nm":344,"A":0.364},{"t":9,"nm":346,"A":0.368},{"t":9,"nm":348,"A":0.372},{"t":9,"nm":350,"A":0.377},{"t":9,"nm":352,"A":0.382},{"t":9,"nm":354,"A":0.387},{"t":9,"nm":356,"A":0.392},{"t":9,"nm":358,"A":0.397},{"t":9,"nm":360,"A":0.403},{"t":9,"nm":362,"A":0.409},{"t":9,"nm":364,"A":0.415},{"t":9,"nm":366,"A":0.422},{"t":9,"nm":368,"A":0.429},{"t":9,"nm":370,"A":0.436},{"t":9,"nm":372,"A":0.443},{"t":9,"nm":374,"A":0.450},{"t":9,"nm":376,"A":0.457},{"t":9,"nm":378,"A":0.464},{"t":9,"nm":380,"A":0.471},{"t":9,"nm":382,"A":0.478},{"t":9,"nm":384,"A":0.484},{"t":9,"nm":386,"A":0.490},{"t":9,"nm":388,"A":0.495},{"t":9,"nm":390,"A":0.500},{"t":9,"nm":392,"A":0.504},{"t":9,"nm":394,"A":0.508},{"t":9,"nm":396,"A":0.511},{"t":9,"nm":398,"A":0.514},{"t":9,"nm":400,"A":0.517},
{"t":10,"nm":300,"A":0.407},{"t":10,"nm":301,"A":0.400},{"t":10,"nm":302,"A":0.394},{"t":10,"nm":303,"A":0.388},{"t":10,"nm":304,"A":0.383},{"t":10,"nm":305,"A":0.378},{"t":10,"nm":306,"A":0.374},{"t":10,"nm":307,"A":0.370},{"t":10,"nm":308,"A":0.366},{"t":10,"nm":309,"A":0.362},{"t":10,"nm":310,"A":0.358},{"t":10,"nm":311,"A":0.355},{"t":10,"nm":312,"A":0.353},{"t":10,"nm":313,"A":0.351},{"t":10,"nm":314,"A":0.349},{"t":10,"nm":315,"A":0.348},{"t":10,"nm":316,"A":0.347},{"t":10,"nm":317,"A":0.346},{"t":10,"nm":318,"A":0.345},{"t":10,"nm":319,"A":0.344},{"t":10,"nm":320,"A":0.343},{"t":10,"nm":321,"A":0.343},{"t":10,"nm":322,"A":0.342},{"t":10,"nm":323,"A":0.342},{"t":10,"nm":324,"A":0.342},{"t":10,"nm":325,"A":0.342},{"t":10,"nm":326,"A":0.342},{"t":10,"nm":327,"A":0.342},{"t":10,"nm":328,"A":0.342},{"t":10,"nm":329,"A":0.342},{"t":10,"nm":330,"A":0.342},{"t":10,"nm":331,"A":0.342},{"t":10,"nm":332,"A":0.343},{"t":10,"nm":333,"A":0.343},{"t":10,"nm":334,"A":0.344},{"t":10,"nm":335,"A":0.344},{"t":10,"nm":336,"A":0.345},{"t":10,"nm":337,"A":0.346},{"t":10,"nm":338,"A":0.347},{"t":10,"nm":339,"A":0.348},{"t":10,"nm":340,"A":0.349},{"t":10,"nm":341,"A":0.350},{"t":10,"nm":342,"A":0.351},{"t":10,"nm":343,"A":0.353},{"t":10,"nm":344,"A":0.355},{"t":10,"nm":345,"A":0.357},{"t":10,"nm":346,"A":0.359},{"t":10,"nm":347,"A":0.361},{"t":10,"nm":348,"A":0.363},{"t":10,"nm":349,"A":0.365},{"t":10,"nm":350,"A":0.367},{"t":10,"nm":351,"A":0.369},{"t":10,"nm":352,"A":0.371},{"t":10,"nm":353,"A":0.373},{"t":10,"nm":354,"A":0.375},{"t":10,"nm":355,"A":0.378},{"t":10,"nm":356,"A":0.381},{"t":10,"nm":357,"A":0.384},{"t":10,"nm":358,"A":0.387},{"t":10,"nm":359,"A":0.390},{"t":10,"nm":360,"A":0.393},{"t":10,"nm":361,"A":0.396},{"t":10,"nm":362,"A":0.399},{"t":10,"nm":363,"A":0.402},{"t":10,"nm":364,"A":0.405},{"t":10,"nm":365,"A":0.408},{"t":10,"nm":366,"A":0.411},{"t":10,"nm":367,"A":0.414},{"t":10,"nm":368,"A":0.417},{"t":10,"nm":369,"A":0.420},{"t":10,"nm":370,"A":0.423},{"t":10,"nm":371,"A":0.426},{"t":10,"nm":372,"A":0.429},{"t":10,"nm":373,"A":0.432},{"t":10,"nm":374,"A":0.435},{"t":10,"nm":375,"A":0.438},{"t":10,"nm":376,"A":0.442},{"t":10,"nm":377,"A":0.446},{"t":10,"nm":378,"A":0.450},{"t":10,"nm":379,"A":0.454},{"t":10,"nm":380,"A":0.458},{"t":10,"nm":381,"A":0.462},{"t":10,"nm":382,"A":0.466},{"t":10,"nm":383,"A":0.470},{"t":10,"nm":384,"A":0.474},{"t":10,"nm":385,"A":0.478},{"t":10,"nm":386,"A":0.482},{"t":10,"nm":387,"A":0.486},{"t":10,"nm":388,"A":0.489},{"t":10,"nm":389,"A":0.492},{"t":10,"nm":390,"A":0.495},{"t":10,"nm":391,"A":0.498},{"t":10,"nm":392,"A":0.501},{"t":10,"nm":393,"A":0.503},{"t":10,"nm":394,"A":0.505},{"t":10,"nm":395,"A":0.507},{"t":10,"nm":396,"A":0.509},{"t":10,"nm":397,"A":0.511},{"t":10,"nm":398,"A":0.513},{"t":10,"nm":399,"A":0.514},{"t":10,"nm":400,"A":0.516}
]
},
"vconcat": [
{
  "width": 863, "height": 550,
  "data": {"name": "top"},
  "encoding": {
    "x": {"field": "nm", "type": "quantitative", "title": "Wavelength(nm)", "scale": {"domain": [311.5, 501.5], "nice": false, "zero": false},
      "axis": {"values": [325, 350, 375, 400, 425, 450, 475, 500], "labelExpr": "datum.value % 50 === 0 ? datum.label : ''", "tickSize": {"condition": {"test": "datum.value % 50 === 0", "value": 8}, "value": 5}, "labelPadding": 8, "titlePadding": 20}},
    "y": {"field": "A", "type": "quantitative", "title": "Absorbance", "scale": {"domain": [0, 0.65], "nice": false, "zero": true},
      "axis": {"values": [0, 0.05, 0.1, 0.15, 0.2, 0.25, 0.3, 0.35, 0.4, 0.45, 0.5, 0.55, 0.6], "format": ".1f", "labelExpr": "round(datum.value * 100) % 10 === 0 ? datum.label : ''", "tickSize": {"condition": {"test": "round(datum.value * 100) % 10 === 0", "value": 8}, "value": 5}, "labelPadding": 8, "titlePadding": 16}}
  },
  "layer": [
    {"mark": {"type": "line", "strokeWidth": 7, "clip": true},
     "encoding": {"color": {"field": "t", "type": "nominal", "legend": null, "scale": {"domain": [0, 1, 2, 3, 4, 5, 6, 7, 8, 9, 10], "range": ["#000000", "#ff0000", "#00ee00", "#0000ff", "#00ffff", "#ff00ff", "#ffff00", "#808000", "#000080", "#800080", "#ff88ff"]}}}},
    {"transform": [{"filter": "datum.t < 10"}],
     "mark": {"type": "point", "filled": true, "opacity": 1, "size": 68, "clip": true},
     "encoding": {"color": {"field": "t", "type": "nominal", "legend": null, "scale": {"domain": [0, 1, 2, 3, 4, 5, 6, 7, 8, 9, 10], "range": ["#000000", "#ff0000", "#00ee00", "#0000ff", "#00ffff", "#ff00ff", "#ffff00", "#808000", "#000080", "#800080", "#ff88ff"]}},
       "shape": {"field": "t", "type": "nominal", "legend": null, "scale": {"domain": [0, 1, 2, 3, 4, 5, 6, 7, 8, 9, 10], "range": ["square", "circle", "triangle-up", "triangle-down", "diamond", "triangle-left", "triangle-right", "M0,-1L0.87,-0.5L0.87,0.5L0,1L-0.87,0.5L-0.87,-0.5Z", "M0,-1L0.22,-0.31L0.95,-0.31L0.36,0.12L0.59,0.81L0,0.38L-0.59,0.81L-0.36,0.12L-0.95,-0.31L-0.22,-0.31Z", "M0,-1L0.95,-0.31L0.59,0.81L-0.59,0.81L-0.95,-0.31Z", "circle"]}}}},
    {"transform": [{"filter": "datum.t == 10"}],
     "mark": {"type": "point", "shape": "circle", "filled": false, "fill": "#ffffa8", "fillOpacity": 1, "stroke": "#ff55ff", "strokeWidth": 1.3, "opacity": 1, "size": 80, "clip": true}},
    {"transform": [{"filter": "datum.t == 10"}],
     "mark": {"type": "point", "shape": "cross", "filled": true, "color": "#f5e000", "opacity": 1, "size": 30, "clip": true}},
    {"data": {"name": "topArrow"},
     "mark": {"type": "rule", "color": "black", "strokeWidth": 1.2},
     "encoding": {"y": {"field": "from", "type": "quantitative", "title": "Absorbance"}, "y2": {"field": "to"}}},
    {"data": {"name": "topArrow"},
     "mark": {"type": "point", "shape": "triangle-down", "filled": true, "color": "black", "opacity": 1, "size": 35},
     "encoding": {"y": {"field": "to", "type": "quantitative", "title": "Absorbance"}}},
    {"data": {"name": "topNotes"},
     "mark": {"type": "text", "align": "center", "baseline": "middle"},
     "encoding": {"text": {"field": "label", "type": "nominal"}}}
  ]
},
{
  "width": 875, "height": 538,
  "data": {"name": "bottom"},
  "encoding": {
    "x": {"field": "nm", "type": "quantitative", "title": "Wavelength(nm)", "scale": {"domain": [300, 400], "nice": false, "zero": false},
      "axis": {"values": [300, 315, 330, 345, 360, 375, 390], "labelExpr": "datum.value % 30 === 0 ? datum.label : ''", "tickSize": {"condition": {"test": "datum.value % 30 === 0", "value": 8}, "value": 5}, "labelPadding": 6, "titlePadding": 20}},
    "y": {"field": "A", "type": "quantitative", "title": "Absorbance", "scale": {"domain": [0, 0.8], "nice": false, "zero": true},
      "axis": {"values": [0, 0.05, 0.1, 0.15, 0.2, 0.25, 0.3, 0.35, 0.4, 0.45, 0.5, 0.55, 0.6, 0.65, 0.7, 0.75, 0.8], "format": ".1f", "labelExpr": "round(datum.value * 100) % 10 === 0 ? datum.label : ''", "tickSize": {"condition": {"test": "round(datum.value * 100) % 10 === 0", "value": 8}, "value": 5}, "labelPadding": 8, "titlePadding": 16}}
  },
  "layer": [
    {"transform": [{"filter": "datum.t >= 7 && datum.t <= 9"}],
     "mark": {"type": "line", "strokeWidth": 5, "clip": true},
     "encoding": {"color": {"field": "t", "type": "nominal", "legend": null, "scale": {"domain": [0, 1, 2, 3, 4, 5, 6, 7, 8, 9, 10], "range": ["#000000", "#ff0000", "#00ee00", "#0000ff", "#00ffff", "#ff00ff", "#ffff00", "#808000", "#000080", "#800080", "#ff88ff"]}}}},
    {"transform": [{"filter": "datum.t < 10"}],
     "mark": {"type": "point", "filled": true, "opacity": 1, "size": 110, "clip": true},
     "encoding": {"color": {"field": "t", "type": "nominal", "legend": null, "scale": {"domain": [0, 1, 2, 3, 4, 5, 6, 7, 8, 9, 10], "range": ["#000000", "#ff0000", "#00ee00", "#0000ff", "#00ffff", "#ff00ff", "#ffff00", "#808000", "#000080", "#800080", "#ff88ff"]}},
       "shape": {"field": "t", "type": "nominal", "legend": null, "scale": {"domain": [0, 1, 2, 3, 4, 5, 6, 7, 8, 9, 10], "range": ["square", "circle", "triangle-up", "triangle-down", "diamond", "triangle-left", "triangle-right", "M0,-1L0.87,-0.5L0.87,0.5L0,1L-0.87,0.5L-0.87,-0.5Z", "M0,-1L0.22,-0.31L0.95,-0.31L0.36,0.12L0.59,0.81L0,0.38L-0.59,0.81L-0.36,0.12L-0.95,-0.31L-0.22,-0.31Z", "M0,-1L0.95,-0.31L0.59,0.81L-0.59,0.81L-0.95,-0.31Z", "circle"]}}}},
    {"transform": [{"filter": "datum.t == 10"}],
     "mark": {"type": "point", "shape": "circle", "filled": false, "fill": "#ffffa8", "fillOpacity": 1, "stroke": "#ff55ff", "strokeWidth": 1.5, "opacity": 1, "size": 95, "clip": true}},
    {"transform": [{"filter": "datum.t == 10"}],
     "mark": {"type": "point", "shape": "cross", "filled": true, "color": "#f5e000", "opacity": 1, "size": 40, "clip": true}},
    {"data": {"name": "bottomArrow"},
     "mark": {"type": "rule", "color": "black", "strokeWidth": 1.2},
     "encoding": {"y": {"field": "from", "type": "quantitative", "title": "Absorbance"}, "y2": {"field": "to"}}},
    {"data": {"name": "bottomArrow"},
     "mark": {"type": "point", "shape": "triangle-down", "filled": true, "color": "black", "opacity": 1, "size": 35},
     "encoding": {"y": {"field": "to", "type": "quantitative", "title": "Absorbance"}}},
    {"data": {"name": "bottomNotes"},
     "mark": {"type": "text", "align": "center", "baseline": "middle"},
     "encoding": {"text": {"field": "label", "type": "nominal"}}}
  ]
}
]
}
